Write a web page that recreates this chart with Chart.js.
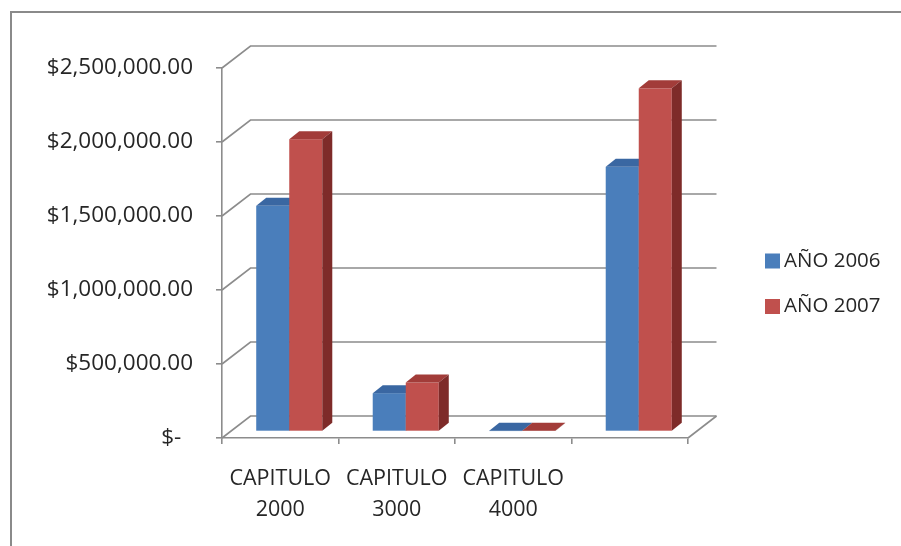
<!DOCTYPE html>
<html>
<head>
<meta charset="utf-8">
<script src="https://cdn.jsdelivr.net/npm/chart.js@4.4.1/dist/chart.umd.min.js"></script>
<style>
  html, body { margin: 0; padding: 0; background: #ffffff; }
  #wrap { width: 901px; height: 546px; position: relative; }
</style>
</head>
<body>
<div id="wrap"><canvas id="c"></canvas></div>
<script>
// Budget by chapter, 2006 vs 2007
const categories = [['CAPITULO', '2000'], ['CAPITULO', '3000'], ['CAPITULO', '4000'], ''];
const seriesNames = ['AÑO 2006', 'AÑO 2007'];
const values2006 = [1525000, 259000, 3000, 1789000];
const values2007 = [1975000, 331000, 4000, 2319000];
const yTickValues = [0, 500000, 1000000, 1500000, 2000000, 2500000];
const yTickLabels = ['$-', '$500,000.00', '$1,000,000.00', '$1,500,000.00', '$2,000,000.00', '$2,500,000.00'];

const FAMILY = '"Open Sans", sans-serif';
const TEXT = '#262626';
const GRID = '#8c8c8c';

// face colours: front, top, side
const palette = [
  { front: '#4a7ebb', top: '#3a67a2', side: '#2f5689' },
  { front: '#c0504d', top: '#a23c39', side: '#7e2b29' }
];

// depth of the floor/back wall, offset of the bar plane, and bar thickness
const DEPTH = { x: 28.5, y: -22 };
const BAR_SHIFT = { x: 9, y: -6.5 };
const BAR_DEPTH = { x: 10, y: -8 };

const threeD = {
  id: 'threeD',
  beforeDraw(chart) {
    const ctx = chart.ctx;
    ctx.save();
    ctx.fillStyle = '#ffffff';
    ctx.fillRect(0, 0, chart.width, chart.height);
    ctx.strokeStyle = '#8a8a8a';
    ctx.lineWidth = 2;
    ctx.beginPath();
    ctx.moveTo(11, chart.height);
    ctx.lineTo(11, 12);
    ctx.lineTo(chart.width, 12);
    ctx.stroke();
    ctx.restore();
  },
  beforeDatasetsDraw(chart) {
    const ctx = chart.ctx;
    const a = chart.chartArea;
    const y = chart.scales.y;
    ctx.save();
    ctx.strokeStyle = GRID;
    ctx.lineWidth = 1.6;
    // side-wall diagonals and back-wall gridlines
    y.ticks.forEach(t => {
      const py = y.getPixelForValue(t.value);
      ctx.beginPath();
      ctx.moveTo(a.left, py);
      ctx.lineTo(a.left + DEPTH.x, py + DEPTH.y);
      ctx.lineTo(a.right + DEPTH.x, py + DEPTH.y);
      ctx.stroke();
    });
    // right edge of the floor
    ctx.beginPath();
    ctx.moveTo(a.right, a.bottom);
    ctx.lineTo(a.right + DEPTH.x, a.bottom + DEPTH.y);
    ctx.stroke();
    ctx.restore();
  },
  beforeDatasetDraw() {
    return false;
  },
  afterDatasetsDraw(chart) {
    const ctx = chart.ctx;
    const metas = chart.getSortedVisibleDatasetMetas().slice().sort((m, n) => m.index - n.index);
    const count = chart.data.labels.length;
    for (let i = 0; i < count; i++) {
      metas.forEach(meta => {
        const el = meta.data[i];
        const c = palette[meta.index];
        const p = el.getProps(['x', 'y', 'base', 'width'], true);
        const xl = p.x - p.width / 2 + BAR_SHIFT.x;
        const xr = p.x + p.width / 2 + BAR_SHIFT.x;
        const yt = Math.min(p.y, p.base) + BAR_SHIFT.y;
        const yb = Math.max(p.y, p.base) + BAR_SHIFT.y;
        ctx.save();
        // front
        ctx.fillStyle = c.front;
        ctx.fillRect(xl, yt, xr - xl, yb - yt);
        // top
        ctx.fillStyle = c.top;
        ctx.beginPath();
        ctx.moveTo(xl, yt);
        ctx.lineTo(xr, yt);
        ctx.lineTo(xr + BAR_DEPTH.x, yt + BAR_DEPTH.y);
        ctx.lineTo(xl + BAR_DEPTH.x, yt + BAR_DEPTH.y);
        ctx.closePath();
        ctx.fill();
        // side
        ctx.fillStyle = c.side;
        ctx.beginPath();
        ctx.moveTo(xr, yt);
        ctx.lineTo(xr + BAR_DEPTH.x, yt + BAR_DEPTH.y);
        ctx.lineTo(xr + BAR_DEPTH.x, yb + BAR_DEPTH.y);
        ctx.lineTo(xr, yb);
        ctx.closePath();
        ctx.fill();
        ctx.restore();
      });
    }
  },
  afterDraw(chart) {
    const ctx = chart.ctx;
    ctx.save();
    ctx.font = '20.5px ' + FAMILY;
    ctx.textBaseline = 'middle';
    ctx.textAlign = 'left';
    const rows = [261, 306.5];
    chart.data.datasets.forEach((ds, k) => {
      const cy = rows[k];
      ctx.fillStyle = palette[k].front;
      ctx.fillRect(765, cy - 7.5, 15, 15);
      ctx.fillStyle = TEXT;
      ctx.fillText(ds.label, 784, cy);
    });
    ctx.restore();
  }
};

new Chart(document.getElementById('c'), {
  type: 'bar',
  data: {
    labels: categories,
    datasets: [
      { label: seriesNames[0], data: values2006, backgroundColor: palette[0].front },
      { label: seriesNames[1], data: values2007, backgroundColor: palette[1].front }
    ]
  },
  options: {
    responsive: true,
    maintainAspectRatio: false,
    animation: false,
    events: [],
    layout: { padding: { top: 68, right: 213, bottom: 0, left: 0 } },
    datasets: { bar: { categoryPercentage: 0.567, barPercentage: 1 } },
    plugins: { legend: { display: false }, tooltip: { enabled: false } },
    scales: {
      x: {
        grid: { offset: true, drawOnChartArea: false, drawTicks: true, tickLength: 6, color: GRID, lineWidth: 1.6 },
        border: { display: true, color: GRID, width: 1.6 },
        ticks: { color: TEXT, font: { family: FAMILY, size: 21.5, lineHeight: 1.45 }, padding: 19, maxRotation: 0, autoSkip: false },
        afterFit(scale) { scale.height = 108; }
      },
      y: {
        min: 0,
        max: 2500000,
        grid: { drawOnChartArea: false, drawTicks: true, tickLength: 6, color: GRID, lineWidth: 1.6 },
        border: { display: true, color: GRID, width: 1.6 },
        ticks: {
          stepSize: 500000,
          color: TEXT,
          font: { family: FAMILY, size: 22.5 },
          padding: 23,
          callback(value) {
            const label = yTickLabels[yTickValues.indexOf(value)];
            return value === 0 ? label + '  ' : label;
          }
        },
        afterFit(scale) { scale.width = 222; }
      }
    }
  },
  plugins: [threeD]
});
</script>
</body>
</html>
